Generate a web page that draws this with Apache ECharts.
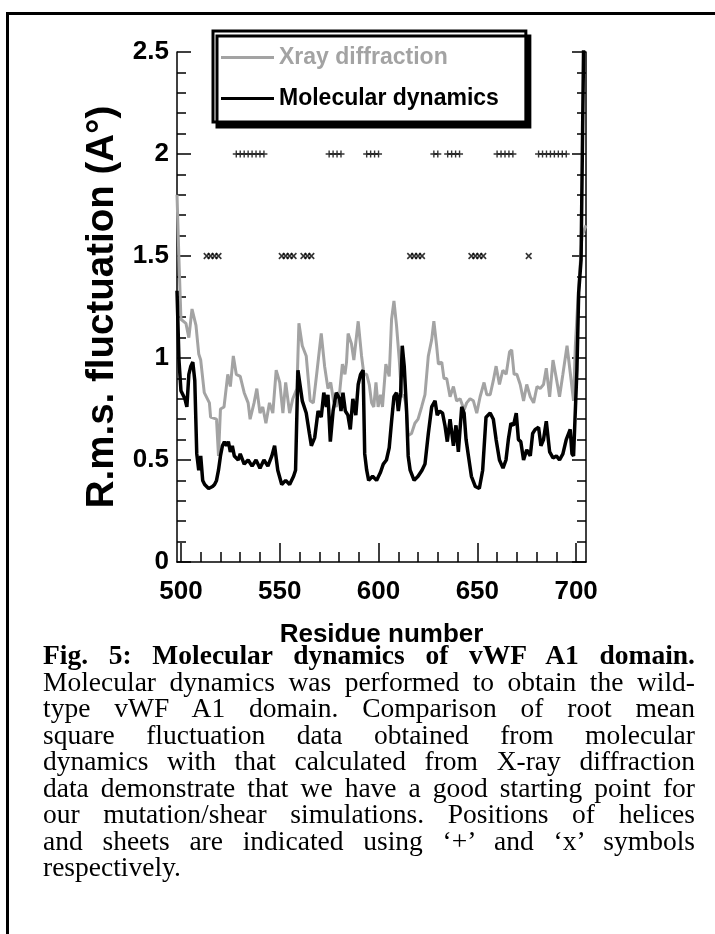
<!DOCTYPE html>
<html>
<head>
<meta charset="utf-8">
<script src="https://cdn.jsdelivr.net/npm/echarts@6/dist/echarts.min.js"></script>
<style>
html,body{margin:0;padding:0;background:#fff;}
#wrap{position:relative;width:715px;height:934px;overflow:hidden;background:#fff;}
#chart{position:absolute;left:0;top:0;width:715px;height:934px;}
#frameL{position:absolute;left:6px;top:12px;width:3px;height:922px;background:#000;}
#frameT{position:absolute;left:6px;top:12px;width:709px;height:3px;background:#000;}
#caption{position:absolute;left:43px;top:642px;width:652px;background:#fff;
  font-family:"Liberation Serif","Times New Roman",serif;font-size:27.5px;line-height:26.5px;color:#000;}
#caption div{text-align:justify;text-align-last:justify;white-space:nowrap;}
#caption div.last{text-align-last:left;}
#caption b{font-weight:bold;}
</style>
</head>
<body>
<div id="wrap">
<div id="chart"></div>
<div id="frameL"></div>
<div id="frameT"></div>
<div id="caption">
<div><b>Fig. 5: Molecular dynamics of vWF A1 domain.</b></div>
<div>Molecular dynamics was performed to obtain the wild-</div>
<div>type vWF A1 domain. Comparison of root mean</div>
<div>square fluctuation data obtained from molecular</div>
<div>dynamics with that calculated from X-ray diffraction</div>
<div>data demonstrate that we have a good starting point for</div>
<div>our mutation/shear simulations. Positions of helices</div>
<div>and sheets are indicated using ‘+’ and ‘x’ symbols</div>
<div class="last">respectively.</div>
</div>
</div>
<script>
// ---- data ----
const seriesNames = ['Xray diffraction', 'Molecular dynamics'];
const xrayResidues = [498,499,500,502.5,504,505.6,507.6,509,510,511.8,514.4,515,518,519,520,521.8,523.7,525,526.5,528,530,532,534,535,537,538.4,540,541.4,543,544.8,546.5,548.2,550,551.6,553,555,556.6,558.7,559.7,561.4,563.4,565.4,567,568.8,571,572.7,574.4,575.8,577.2,578.6,580.3,581.7,583,583.8,584.6,586.3,587.5,588.5,589.7,591.4,592.6,594,595.3,596.5,597.6,598.7,599.8,601,602,603.7,605.4,606.6,607.8,609.1,610.5,611.7,612.8,613.9,615,616.7,618.4,620,621.8,623.5,625.2,626.9,628,629.4,630.3,632,633.1,634.5,636.2,637.9,639.5,641.3,643.3,644.6,646.3,648,649.7,651.4,653.4,654.8,656.5,658.1,659.5,661.2,662.9,664.6,666.3,667.4,668.6,670,671.7,673.4,675,676.8,678.5,680.2,681.8,683.5,684.9,686.6,688.3,690,691.6,693.3,695.4,697,698.7,699.6,701,703,705];
const xrayValues = [1.8,1.48,1.19,1.17,1.10,1.24,1.16,1.02,0.99,0.83,0.78,0.71,0.70,0.52,0.75,0.76,0.92,0.86,1.01,0.92,0.91,0.83,0.78,0.70,0.78,0.85,0.73,0.76,0.68,0.78,0.73,0.94,0.88,0.73,0.88,0.73,0.80,0.85,1.17,1.06,1.01,0.79,0.78,0.93,1.12,0.96,0.85,0.88,0.79,0.76,0.83,0.97,0.92,0.98,1.12,1.07,0.99,0.99,1.18,1.01,0.92,0.92,0.87,0.78,0.76,0.88,0.76,0.82,0.76,0.97,0.91,1.19,1.28,1.16,0.99,0.81,0.82,0.77,0.62,0.63,0.68,0.70,0.76,0.82,1.01,1.09,1.18,1.06,0.97,0.98,0.90,0.90,0.81,0.86,0.79,0.80,0.745,0.78,0.80,0.79,0.73,0.81,0.88,0.82,0.82,0.89,0.96,0.87,0.94,0.92,1.03,1.04,0.92,0.92,0.87,0.79,0.87,0.81,0.78,0.86,0.85,0.87,0.95,0.81,0.99,0.90,0.81,0.92,1.06,0.93,0.79,1.06,1.3,1.6,1.65];
const mdResidues = [498,499,500,501,502,503,504,505,506,507,508,509,510,511,512,513,514,515,516,517,518,519,520,521,522,523,524,525,526,527,528,529,530,532,534,536,538,540,542,544,546,547.4,549,551,553,555,557,558,559.2,561.4,563.4,565,566,567.7,569.4,571,572.3,573.6,574.4,575.6,577,578.6,580.3,581,582,583.2,584.5,585.7,587,588.5,589.7,590.9,592.2,593,594,595,597,599,601,602.4,604,605.4,606.6,607.8,609.1,610,611.2,612,613,614.2,615,616,618,620,622,623.5,625.2,626.9,628.6,629.7,631,632.4,633.6,634.8,636.2,637.9,639.2,640.4,642.1,643.3,644.3,645.5,647,649,651,652.7,654.4,656.5,658.1,659.5,661.2,663,664.5,665.7,667,668.3,669.7,670.8,672,673.4,675,676.8,678,679.3,681,682.2,683.5,684.9,686.6,688.3,690,691.6,693.3,695,697,697.9,698.7,700.4,701.3,702.5,704];
const mdValues = [1.33,0.99,0.84,0.82,0.80,0.76,0.92,0.96,0.98,0.89,0.53,0.45,0.52,0.40,0.38,0.37,0.36,0.36,0.37,0.38,0.40,0.45,0.52,0.57,0.59,0.57,0.59,0.54,0.57,0.52,0.52,0.50,0.53,0.48,0.50,0.47,0.50,0.46,0.50,0.47,0.52,0.57,0.45,0.38,0.40,0.38,0.42,0.45,0.94,0.79,0.73,0.63,0.57,0.61,0.74,0.71,0.83,0.76,0.82,0.59,0.74,0.83,0.80,0.74,0.83,0.74,0.72,0.65,0.80,0.72,0.87,0.92,0.94,0.53,0.45,0.40,0.42,0.40,0.44,0.48,0.50,0.56,0.69,0.81,0.83,0.74,0.83,1.06,0.96,0.74,0.52,0.45,0.40,0.42,0.45,0.48,0.63,0.76,0.79,0.72,0.74,0.73,0.67,0.59,0.70,0.57,0.67,0.54,0.76,0.73,0.60,0.52,0.42,0.37,0.36,0.45,0.71,0.73,0.70,0.60,0.50,0.46,0.50,0.60,0.68,0.67,0.73,0.60,0.59,0.50,0.55,0.52,0.63,0.65,0.66,0.57,0.60,0.69,0.54,0.51,0.52,0.50,0.53,0.60,0.65,0.53,0.52,0.94,1.32,1.48,2.7];
const helixResidues = [528,530,532,534,536,538,540,542,575,577,579,581,594,596,598,600,628,630,635,637,639,641,660,662,664,666,668,681,683,685,687,689,691,693,695];
const helixLevel = 2;
const sheetResidues = [513,515,517,519,551,553,555,557,562,564,566,616,618,620,622,647,649,651,653,676];
const sheetLevel = 1.5;
const xLabelValues = [500,550,600,650,700];
const xMinorTicks = [510,520,530,540,560,570,580,590,610,620,630,640,660,670,680,690];

// ---- build ----
const pairs = (xs, ys) => xs.map((x, i) => [x, ys[i]]);
const GRAY = '#a3a3a3';
const FONT = '"Liberation Sans", Arial, sans-serif';
const chart = echarts.init(document.getElementById('chart'), null, {renderer: 'canvas'});
const axisBase = {type: 'value', min: 498, max: 705, position: 'bottom'};
chart.setOption({
  animation: false,
  backgroundColor: '#fff',
  grid: {left: 177, right: 129, top: 52, bottom: 372, containLabel: false},
  legend: {
    left: 213, top: 31, orient: 'vertical',
    data: [
      {name: seriesNames[0], icon: 'rect', textStyle: {color: GRAY}},
      {name: seriesNames[1], icon: 'rect', textStyle: {color: '#000'}}
    ],
    itemWidth: 53, itemHeight: 3, itemGap: 18,
    padding: [15, 27, 12, 8],
    backgroundColor: '#fff', borderColor: '#000', borderWidth: 3, borderRadius: 0,
    shadowColor: '#000', shadowBlur: 0, shadowOffsetX: 4, shadowOffsetY: 5,
    textStyle: {fontFamily: FONT, fontWeight: 'bold', fontSize: 23, padding: [0,0,0,0]}
  },
  xAxis: [
    Object.assign({}, axisBase, {
      name: 'Residue number', nameLocation: 'middle', nameGap: 60,
      nameTextStyle: {fontFamily: FONT, fontWeight: 'bold', fontSize: 26, color: '#000', verticalAlign: 'top'},
      axisLine: {show: true, lineStyle: {color: '#000', width: 1.5}},
      axisTick: {show: true, inside: true, length: 19, customValues: xLabelValues, lineStyle: {color: '#000', width: 1.5}},
      axisLabel: {show: true, customValues: xLabelValues, margin: 17, fontFamily: FONT, fontWeight: 'bold', fontSize: 26, color: '#000'},
      splitLine: {show: false}
    }),
    Object.assign({}, axisBase, {
      axisLine: {show: false},
      axisTick: {show: true, inside: true, length: 10, customValues: xMinorTicks, lineStyle: {color: '#000', width: 1.5}},
      axisLabel: {show: false},
      splitLine: {show: false}
    })
  ],
  yAxis: [
    {
      type: 'value', min: 0, max: 2.5, interval: 0.5, position: 'left',
      name: 'R.m.s. fluctuation (A°)', nameLocation: 'middle', nameGap: 55, nameRotate: 90,
      nameTextStyle: {fontFamily: FONT, fontWeight: 'bold', fontSize: 38.5, color: '#000'},
      axisLine: {show: true, lineStyle: {color: '#000', width: 1.5}},
      axisTick: {show: true, inside: true, length: 14, lineStyle: {color: '#000', width: 1.5}},
      minorTick: {show: true, splitNumber: 5, length: 9, lineStyle: {color: '#000', width: 1.5}},
      axisLabel: {margin: 8, fontFamily: FONT, fontWeight: 'bold', fontSize: 26, color: '#000',
        formatter: v => String(v)},
      splitLine: {show: false}, minorSplitLine: {show: false}
    },
    {
      type: 'value', min: 0, max: 2.5, interval: 0.5, position: 'right',
      axisLine: {show: true, lineStyle: {color: '#000', width: 1.5}},
      axisTick: {show: true, inside: true, length: 14, lineStyle: {color: '#000', width: 1.5}},
      minorTick: {show: true, splitNumber: 5, length: 9, lineStyle: {color: '#000', width: 1.5}},
      axisLabel: {show: false},
      splitLine: {show: false}, minorSplitLine: {show: false}
    }
  ],
  series: [
    {name: seriesNames[0], type: 'line', data: pairs(xrayResidues, xrayValues), showSymbol: false, symbol: 'none',
      color: GRAY, lineStyle: {color: GRAY, width: 3}, clip: true, z: 2},
    {name: seriesNames[1], type: 'line', data: pairs(mdResidues, mdValues), showSymbol: false, symbol: 'none',
      color: '#000', lineStyle: {color: '#000', width: 3.5}, clip: true, z: 3},
    {name: 'helix', type: 'scatter', data: helixResidues.map(r => [r, helixLevel]),
      symbol: 'path://M4,0H6V10H4Z M0,4H10V6H0Z', symbolSize: 7, itemStyle: {color: '#000'}, z: 4},
    {name: 'sheet', type: 'scatter', data: sheetResidues.map(r => [r, sheetLevel]),
      symbol: 'path://M4,0H6V10H4Z M0,4H10V6H0Z', symbolSize: 8, symbolRotate: 45, itemStyle: {color: '#000'}, z: 4}
  ]
});
</script>
</body>
</html>
